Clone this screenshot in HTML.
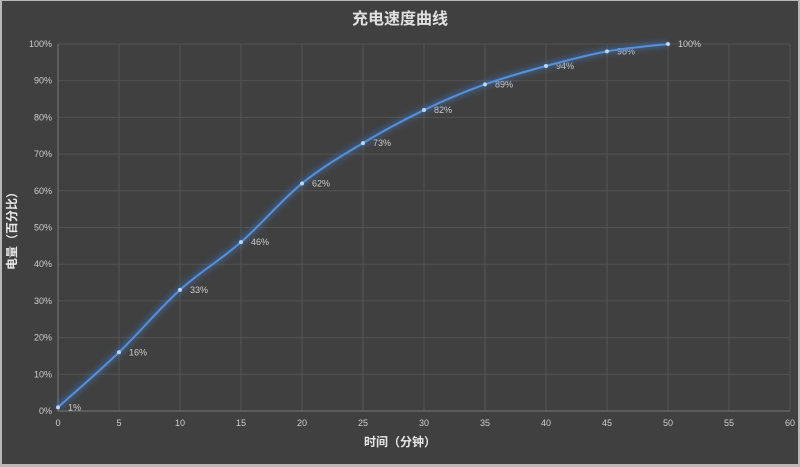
<!DOCTYPE html>
<html><head><meta charset="utf-8"><style>
body{margin:0;background:#fff}
svg{display:block}
text{font-family:"Liberation Sans","Noto Sans CJK SC",sans-serif}
</style></head><body>
<svg width="800" height="467" viewBox="0 0 800 467">
<defs><filter id="g" x="-10%" y="-10%" width="120%" height="120%"><feGaussianBlur stdDeviation="3"/></filter></defs>
<rect x="0" y="0" width="800" height="467" fill="#b8b8b8"/>
<rect x="2" y="1" width="796" height="463" fill="#404040"/>
<g id="grid" stroke="#535353" stroke-width="1"></g>
<text x="400" y="24" fill="#e0e0e0" font-size="16" font-weight="bold" text-anchor="middle">充电速度曲线</text>
<text x="400" y="446" fill="#e8e8e8" font-size="12" font-weight="bold" text-anchor="middle">时间（分钟）</text>
<text transform="translate(16,228) rotate(-90)" fill="#e8e8e8" font-size="12" font-weight="bold" text-anchor="middle">电量（百分比）</text>
<g id="labels" fill="#cfcfcf" font-size="9"></g>
<path id="glow" fill="none" stroke="#3f7fd0" stroke-width="6" opacity="0.45" filter="url(#g)"/>
<path id="line" fill="none" stroke="#5590dc" stroke-width="2"/>
<g id="pts" fill="#bcd6f8"></g>
</svg>
<script>
const X=m=>58+m*12.2, Y=p=>411-p*3.67;
const g=document.getElementById('grid'),L=document.getElementById('labels'),ns='http://www.w3.org/2000/svg';
function el(t,a,p,txt){const e=document.createElementNS(ns,t);for(const k in a)e.setAttribute(k,a[k]);if(txt!=null)e.textContent=txt;p.appendChild(e);return e;}
for(let p=0;p<=100;p+=10){el('line',{x1:58,x2:790,y1:Y(p),y2:Y(p)},g);el('text',{x:52,y:Y(p)+3,'text-anchor':'end'},L,p+'%');}
for(let m=0;m<=60;m+=5){el('line',{x1:X(m),x2:X(m),y1:44,y2:411},g);el('text',{x:X(m),y:426,'text-anchor':'middle'},L,m);}
el('line',{x1:58,x2:58,y1:44,y2:411,stroke:'#777'},g);el('line',{x1:58,x2:790,y1:411,y2:411,stroke:'#777'},g);
const d=[1,16,33,46,62,73,82,89,94,98,100];
const P=d.map((v,i)=>[X(i*5),Y(v)]);
let s='M'+P[0];
for(let i=0;i<P.length-1;i++){const p0=P[i-1]||P[i],p1=P[i],p2=P[i+1],p3=P[i+2]||P[i+1];
s+=` C${p1[0]+(p2[0]-p0[0])/6},${p1[1]+(p2[1]-p0[1])/6} ${p2[0]-(p3[0]-p1[0])/6},${p2[1]-(p3[1]-p1[1])/6} ${p2[0]},${p2[1]}`;}
document.getElementById('glow').setAttribute('d',s);document.getElementById('line').setAttribute('d',s);
const pts=document.getElementById('pts');
P.forEach((p,i)=>{el('circle',{cx:p[0],cy:p[1],r:2},pts);el('text',{x:p[0]+10,y:p[1]+3},L,d[i]+'%');});
</script>
</body></html>
